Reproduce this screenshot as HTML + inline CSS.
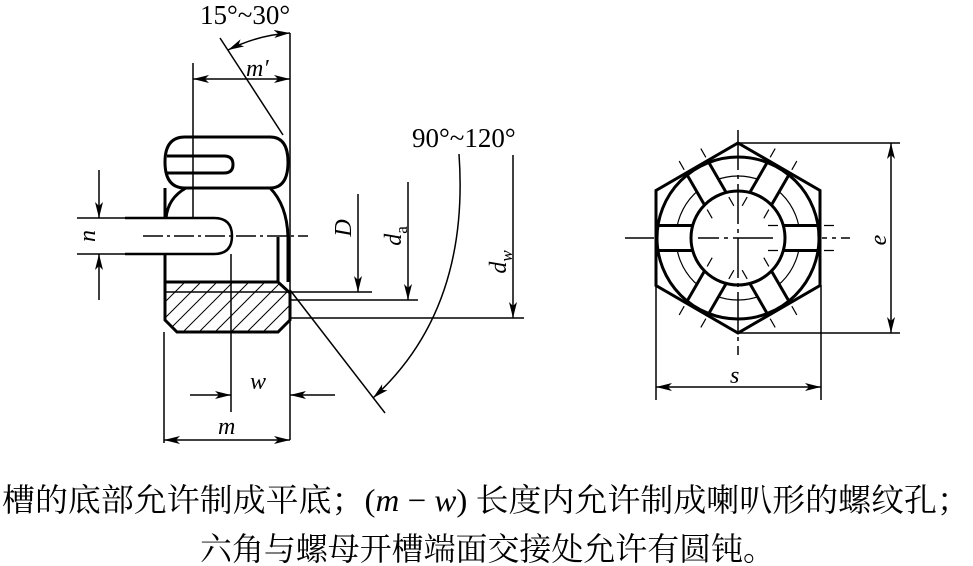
<!DOCTYPE html>
<html><head><meta charset="utf-8"><style>
html,body{margin:0;padding:0;background:#fff;}
svg{display:block;}
text{font-family:"Liberation Serif","Noto Serif CJK SC",serif;fill:#000;}
</style></head><body>
<svg width="973" height="566" viewBox="0 0 973 566" xmlns="http://www.w3.org/2000/svg">
<defs>
<marker id="a" viewBox="0 0 16 8" refX="16" refY="4" markerWidth="16" markerHeight="8" markerUnits="userSpaceOnUse" orient="auto-start-reverse">
<path d="M0,0 L16,4 L0,8 L4,4 Z" fill="#000"/></marker>
<clipPath id="hc"><path d="M165,282 L278,282 L290,293 L290,320 L278,332 L177,332 L165,320 Z"/></clipPath>
</defs>
<g stroke="#000" fill="none">
<g stroke-width="3">
<path d="M185,137 L270,137 Q288,137 288,162 Q288,188 270,188 L185,188 Q165,188 165,162 Q165,137 185,137 Z"/>
<path d="M167,156 L224,156 Q233,156 233,164.5 Q233,173 224,173 L167,173"/>
<path d="M165,188 L165,218 M166,218 Q168,198 186,188"/>
<path d="M270,188 Q287,205 288,237 L288,282"/>
<path d="M125,218 L214,218 Q232,218 232,236 Q232,254 214,254 L125,254" stroke-width="2.5"/>
<path d="M165,254 L165,282"/>
<path d="M278,237 L278,282"/>
<path d="M165,282 L278,282 L290,293 L290,320 L278,332 L177,332 L165,320 Z"/>
</g>
<g clip-path="url(#hc)" stroke-width="1">
<path d="M165,302 L185,282 M165,318 L201,282 M172,327 L217,282 M183,332 L233,282 M199,332 L249,282 M215,332 L265,282 M231,332 L281,282 M247,332 L297,282 M263,332 L313,282 M279,332 L329,282"/>
</g>
<g stroke-width="1.5">
<line x1="290" y1="33" x2="290" y2="440"/>
<line x1="164" y1="332" x2="164" y2="443"/>
<line x1="193" y1="63" x2="193" y2="218"/>
<line x1="231" y1="254" x2="231" y2="412"/>
<line x1="220" y1="38" x2="283" y2="135"/>
<line x1="143" y1="236" x2="308" y2="236" stroke-dasharray="20,4,3,4"/>
<line x1="77" y1="218" x2="125" y2="218"/>
<line x1="77" y1="254" x2="125" y2="254"/>
<line x1="99" y1="170" x2="99" y2="218" marker-end="url(#a)"/>
<line x1="99" y1="300" x2="99" y2="254" marker-end="url(#a)"/>
<line x1="193" y1="79" x2="290" y2="79" marker-start="url(#a)" marker-end="url(#a)"/>
<path d="M228,50 Q258,35 290,33" marker-start="url(#a)" marker-end="url(#a)"/>
<line x1="190" y1="395" x2="231" y2="395" marker-end="url(#a)"/>
<line x1="335" y1="395" x2="290" y2="395" marker-end="url(#a)"/>
<line x1="164" y1="440" x2="290" y2="440" marker-start="url(#a)" marker-end="url(#a)"/>
<line x1="165" y1="292" x2="372" y2="292"/>
<line x1="290" y1="300" x2="418" y2="300"/>
<line x1="290" y1="318" x2="524" y2="318"/>
<line x1="358" y1="194" x2="358" y2="292" marker-end="url(#a)"/>
<line x1="408" y1="182" x2="408" y2="300" marker-end="url(#a)"/>
<line x1="513" y1="155" x2="513" y2="318" marker-end="url(#a)"/>
<line x1="290" y1="290" x2="385" y2="413"/>
<path d="M459,154 Q470,310 373,398" marker-end="url(#a)"/>
</g>
<g stroke-width="1.5">
<line x1="625" y1="238" x2="850" y2="238" stroke-dasharray="40,5,4,5"/>
<line x1="738" y1="130" x2="738" y2="355" stroke-dasharray="40,5,4,5"/>
<line x1="738" y1="143" x2="900" y2="143"/>
<line x1="738" y1="333" x2="900" y2="333"/>
<line x1="891" y1="143" x2="891" y2="333" marker-start="url(#a)" marker-end="url(#a)"/>
<line x1="656" y1="285" x2="656" y2="400"/>
<line x1="821" y1="285" x2="821" y2="400"/>
<line x1="656" y1="387" x2="821" y2="387" marker-start="url(#a)" marker-end="url(#a)"/>
<circle cx="738" cy="238" r="62" stroke-width="1.2"/>
</g>
<g transform="translate(738,238)">
<g fill="#fff" stroke="none">
<rect x="40" y="-12.5" width="44" height="25"/>
<rect x="40" y="-12.5" width="44" height="25" transform="rotate(60)"/>
<rect x="40" y="-12.5" width="44" height="25" transform="rotate(120)"/>
<rect x="40" y="-12.5" width="44" height="25" transform="rotate(180)"/>
<rect x="40" y="-12.5" width="44" height="25" transform="rotate(240)"/>
<rect x="40" y="-12.5" width="44" height="25" transform="rotate(300)"/>
</g>
<g stroke-width="3">
<path d="M0,-95 L82,-47.5 L82,47.5 L0,95 L-82,47.5 L-82,-47.5 Z"/>
<circle r="81"/>
<circle r="47"/>
<g id="sl"><path d="M45,-12.5 L81,-12.5 M45,12.5 L81,12.5"/></g>
<use href="#sl" transform="rotate(60)"/>
<use href="#sl" transform="rotate(120)"/>
<use href="#sl" transform="rotate(180)"/>
<use href="#sl" transform="rotate(240)"/>
<use href="#sl" transform="rotate(300)"/>
</g>
<g stroke-width="1.2">
<g id="tk"><path d="M30,-12.5 L40,-12.5 M30,12.5 L40,12.5 M86,-12.5 L96,-12.5 M86,12.5 L96,12.5"/></g>
<use href="#tk" transform="rotate(60)"/>
<use href="#tk" transform="rotate(120)"/>
<use href="#tk" transform="rotate(240)"/>
<use href="#tk" transform="rotate(300)"/>
</g>
</g>
</g>
<text x="200" y="24" font-size="27">15°~30°</text>
<text x="246" y="76" font-size="24" font-style="italic">m′</text>
<text x="250" y="389" font-size="24" font-style="italic">w</text>
<text x="218" y="434" font-size="24" font-style="italic">m</text>
<text x="412" y="147" font-size="27">90°~120°</text>
<text font-size="24" font-style="italic" transform="translate(95,236) rotate(-90)" text-anchor="middle">n</text>
<text font-size="24" font-style="italic" transform="translate(351,228) rotate(-90)" text-anchor="middle">D</text>
<text font-size="24" font-style="italic" transform="translate(401,236) rotate(-90)" text-anchor="middle">d<tspan font-size="17" font-style="normal" dy="6">a</tspan></text>
<text font-size="24" font-style="italic" transform="translate(506,262) rotate(-90)" text-anchor="middle">d<tspan font-size="17" dy="6">w</tspan></text>
<text font-size="24" font-style="italic" transform="translate(886,240) rotate(-90)" text-anchor="middle">e</text>
<text x="730" y="383" font-size="24" font-style="italic">s</text>
<text x="2" y="511" font-size="32" textLength="968" lengthAdjust="spacingAndGlyphs">槽的底部允许制成平底；(<tspan font-style="italic">m</tspan> − <tspan font-style="italic">w</tspan>) 长度内允许制成喇叭形的螺纹孔；</text>
<text x="200" y="560" font-size="32" textLength="575" lengthAdjust="spacingAndGlyphs">六角与螺母开槽端面交接处允许有圆钝。</text>
</svg>
</body></html>
